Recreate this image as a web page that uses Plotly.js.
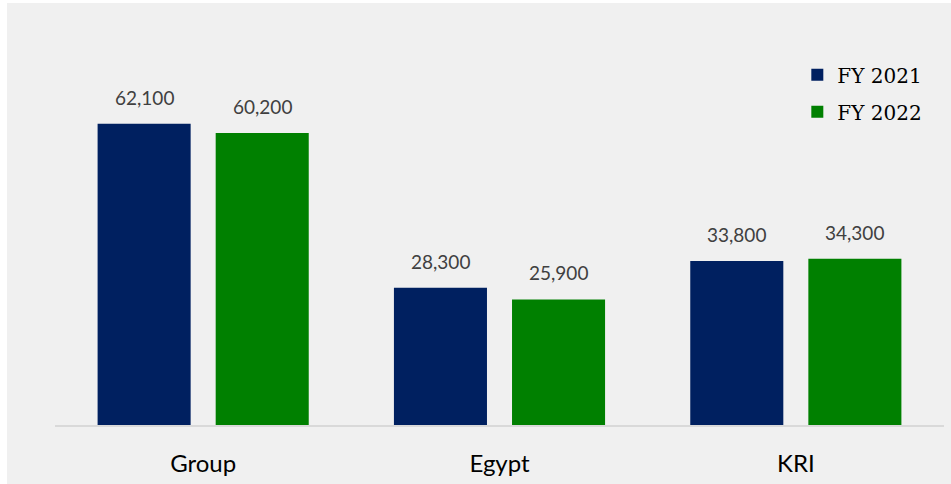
<!DOCTYPE html>
<html>
<head>
<meta charset="utf-8">
<script src="https://cdn.plot.ly/plotly-3.0.1.min.js"></script>
<style>
  html, body { margin: 0; padding: 0; background: #ffffff; }
  #chart { position: absolute; left: 7px; top: 3px; width: 944px; height: 481px; }
</style>
</head>
<body>
<div id="chart"></div>
<script>
const categories = ["Group", "Egypt", "KRI"];
const fy2021 = [62100, 28300, 33800];
const fy2022 = [60200, 25900, 34300];
const seriesNames = ["FY 2021", "FY 2022"];
const seriesColors = ["#002060", "#008000"];

const fmt = v => v.toLocaleString("en-US");

const traces = [fy2021, fy2022].map((vals, i) => ({
  type: "bar",
  name: seriesNames[i],
  x: categories,
  y: vals,
  marker: { color: seriesColors[i] },
  legendgroup: "g" + i,
  hoverinfo: "x+y+name"
}));

const annotations = [];
[fy2021, fy2022].forEach((vals, i) => {
  vals.forEach((v, j) => {
    annotations.push({
      x: categories[j], y: v, xref: "x", yref: "y",
      text: fmt(v), showarrow: false,
      xanchor: "center", yanchor: "bottom",
      xshift: i === 0 ? -59 : 59, yshift: 13,
      font: { family: "Lato, sans-serif", size: 19, color: "#404040" }
    });
  });
});

const layout = {
  width: 944, height: 481,
  paper_bgcolor: "#f0f0f0",
  plot_bgcolor: "#f0f0f0",
  margin: { l: 48, r: 7, t: 34, b: 59 },
  barmode: "group",
  bargap: 0.203,
  bargroupgap: 0.212,
  showlegend: true,
  legend: {
    x: 0.835, y: 0.953, xanchor: "left", yanchor: "top",
    bgcolor: "rgba(0,0,0,0)",
    font: { family: "DejaVu Serif, serif", size: 20, color: "#000000" },
    traceorder: "grouped",
    tracegroupgap: 8
  },
  xaxis: {
    showline: true, linecolor: "#d9d9d9", linewidth: 2,
    ticks: "outside", ticklen: 16, tickcolor: "rgba(0,0,0,0)",
    tickfont: { family: "Lato, sans-serif", size: 24, color: "#000000" },
    showgrid: false, zeroline: false
  },
  yaxis: {
    range: [0, 80000], visible: false, showgrid: false, zeroline: false
  },
  annotations: annotations
};

Plotly.newPlot("chart", traces, layout, { displayModeBar: false, staticPlot: true });
</script>
</body>
</html>
